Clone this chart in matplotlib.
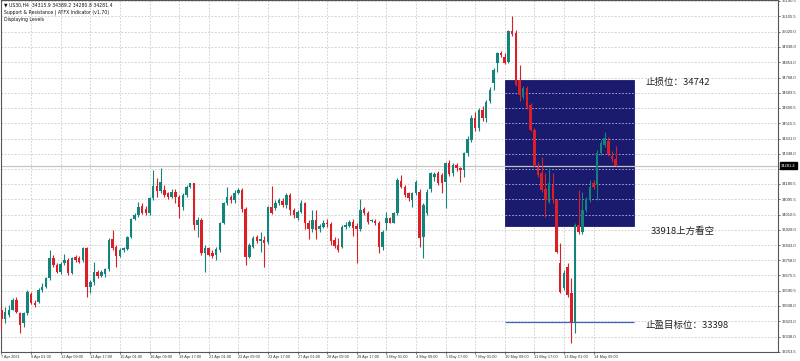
import matplotlib
matplotlib.use("Agg")
import matplotlib.pyplot as plt
import matplotlib.transforms as mtransforms
from matplotlib.patches import Rectangle

plt.rcParams['font.family'] = ['Liberation Sans', 'DejaVu Sans']

# ---------------- data (US30, H4) ----------------
opens = [33485, 33437, 33459, 33486, 33540, 33466, 33411, 33466, 33573, 33525,
         33530, 33595, 33613, 33660, 33770, 33733, 33696, 33743, 33761, 33687,
         33775, 33770, 33761, 33825, 33613, 33641, 33696, 33672, 33683, 33709,
         33875, 33834, 33783, 33816, 33820, 33886, 33985, 34009, 34059, 34040,
         34018, 34101, 34169, 34143, 34147, 34129, 34110, 34138, 34110, 34055,
         34119, 34165, 34184, 33954, 33981, 33797, 33825, 33799, 33788, 33816,
         33963, 34074, 34110, 34092, 34132, 34147, 34040, 33779, 33834, 33886,
         33868, 33871, 33862, 34055, 34046, 34074, 34088, 34064, 34119, 34037,
         33991, 34027, 34077, 33967, 33930, 33981, 33930, 33944, 33963, 33959,
         33871, 33844, 33834, 33941, 33948, 33972, 33948, 33930, 34040, 34018,
         33977, 33977, 33967, 33834, 33967, 33991, 33967, 34018, 34198, 34162,
         34129, 34092, 34129, 34138, 33886, 34018, 34151, 34221, 34239, 34230,
         34193, 34294, 34239, 34285, 34267, 34257, 34350, 34423, 34545, 34490,
         34589, 34545, 34640, 34740, 34848, 34903, 34881, 34854, 35025, 35014,
         34754, 34661, 34710, 34616, 34478, 34274, 34241, 34153, 34081, 34175,
         34092, 33744, 33606, 33722, 33578, 33418, 33954, 33915, 34037, 34092,
         34186, 34175, 34351, 34395, 34418, 34335, 34315.9]
highs = [33503, 33503, 33512, 33549, 33558, 33475, 33475, 33595, 33586, 33540,
         33604, 33632, 33669, 33816, 33788, 33743, 33751, 33794, 33770, 33779,
         33788, 33783, 33834, 33834, 33650, 33751, 33705, 33705, 33715, 33880,
         33926, 33844, 33825, 33834, 33893, 33991, 34018, 34082, 34074, 34057,
         34110, 34257, 34212, 34267, 34175, 34138, 34151, 34151, 34119, 34129,
         34175, 34187, 34188, 33999, 33991, 33844, 33834, 33816, 33834, 33972,
         34082, 34162, 34119, 34147, 34156, 34156, 34051, 33853, 33893, 33897,
         33917, 33891, 34059, 34169, 34092, 34101, 34101, 34132, 34129, 34046,
         34037, 34092, 34082, 33981, 34037, 34037, 33959, 33981, 33985, 33972,
         33885, 33880, 33954, 33972, 33981, 33985, 33963, 34096, 34055, 34033,
         33987, 33985, 33977, 33926, 34027, 33999, 34027, 34212, 34230, 34175,
         34138, 34138, 34202, 34151, 34074, 34151, 34248, 34248, 34253, 34243,
         34303, 34313, 34294, 34296, 34276, 34358, 34445, 34560, 34575, 34600,
         34610, 34645, 34716, 34820, 34910, 34915, 34903, 35030, 35109, 35030,
         34837, 34720, 34720, 34627, 34490, 34303, 34331, 34241, 34267, 34241,
         34097, 33855, 33705, 33744, 33660, 33963, 34147, 34138, 34110, 34202,
         34202, 34368, 34423, 34465, 34440, 34360, 34389.2]
lows = [33374, 33411, 33448, 33485, 33466, 33356, 33392, 33457, 33518, 33503,
        33521, 33586, 33604, 33650, 33724, 33687, 33683, 33733, 33678, 33683,
        33751, 33743, 33751, 33558, 33578, 33623, 33660, 33665, 33665, 33702,
        33816, 33724, 33775, 33806, 33813, 33880, 33980, 33999, 34015, 34009,
        34009, 34092, 34110, 34132, 34110, 34096, 34101, 34074, 33991, 34037,
        34110, 34156, 33926, 33889, 33788, 33696, 33783, 33770, 33761, 33806,
        33958, 34064, 34075, 34075, 34125, 34027, 33733, 33770, 33825, 33856,
        33806, 33724, 33850, 34015, 34037, 34064, 34055, 34046, 34009, 33991,
        33982, 34018, 33930, 33875, 33917, 33875, 33917, 33935, 33941, 33844,
        33825, 33806, 33825, 33930, 33941, 33893, 33743, 33922, 34009, 33959,
        33970, 33954, 33797, 33816, 33926, 33963, 33963, 34009, 34156, 34110,
        34088, 34055, 34119, 33834, 33770, 34009, 34138, 34198, 34175, 34132,
        34046, 34225, 34225, 34254, 34193, 34221, 34335, 34410, 34470, 34470,
        34530, 34520, 34625, 34699, 34800, 34880, 34843, 34850, 34995, 34720,
        34640, 34650, 34595, 34470, 34276, 34219, 34137, 33999, 34075, 34075,
        33799, 33578, 33595, 33558, 33300, 33356, 33904, 33904, 34025, 34081,
        34153, 34092, 34340, 34385, 34335, 34300, 34280.8]
closes = [33437, 33473, 33486, 33540, 33475, 33402, 33466, 33586, 33525, 33512,
          33595, 33613, 33660, 33770, 33733, 33696, 33738, 33761, 33687, 33770,
          33761, 33751, 33825, 33613, 33641, 33696, 33672, 33696, 33709, 33871,
          33825, 33783, 33816, 33825, 33886, 33985, 34009, 34055, 34022, 34018,
          34101, 34169, 34143, 34193, 34119, 34110, 34138, 34110, 34055, 34119,
          34165, 34184, 33954, 33981, 33797, 33825, 33788, 33783, 33820, 33963,
          34074, 34110, 34092, 34132, 34147, 34040, 33779, 33844, 33880, 33867,
          33875, 33856, 34052, 34022, 34077, 34092, 34064, 34119, 34037, 34009,
          34027, 34077, 33963, 33930, 33981, 33926, 33948, 33963, 33959, 33867,
          33838, 33816, 33944, 33952, 33972, 33935, 33930, 34037, 34018, 33972,
          33981, 33963, 33834, 33917, 33991, 33967, 34018, 34202, 34165, 34119,
          34101, 34129, 34193, 33880, 34064, 34138, 34239, 34235, 34188, 34184,
          34294, 34235, 34285, 34267, 34257, 34350, 34430, 34545, 34490, 34589,
          34545, 34633, 34699, 34810, 34903, 34892, 34848, 35025, 35008, 34727,
          34672, 34710, 34605, 34478, 34285, 34230, 34147, 34092, 34186, 34092,
          33805, 33584, 33689, 33567, 33418, 33954, 33915, 34037, 34092, 34164,
          34164, 34351, 34407, 34434, 34346, 34316, 34281.4]

x_labels = ["7 Apr 2021", "9 Apr 01:00", "12 Apr 09:00", "13 Apr 17:00", "15 Apr 01:00",
            "16 Apr 09:00", "19 Apr 17:00", "21 Apr 01:00", "22 Apr 09:00", "23 Apr 17:00",
            "27 Apr 01:00", "28 Apr 09:00", "29 Apr 17:00", "3 May 01:00", "4 May 09:00",
            "5 May 17:00", "7 May 01:00", "10 May 09:00", "11 May 17:00", "13 May 01:00",
            "14 May 09:00"]
bars_per_label = 8

y_tick_values = [35190.5, 35105.5, 35020.0, 34938.0, 34853.0, 34768.0, 34683.5, 34600.5,
                 34515.5, 34431.0, 34348.0, 34263.0, 34180.5, 34095.5, 34010.5, 33928.0,
                 33843.0, 33758.0, 33675.5, 33590.5, 33508.0, 33423.0, 33338.0, 33253.5]

last_price = 34281.4
stop_loss = 34742
pivot_level = 33918
take_profit = 33398
zone_top = 34755
zone_bottom = 33948
target_line = 33416
zone_start_bar = 136
zone_end_bar = 171

header_lines = ["\u25bc US30,H4  34315.9 34389.2 34280.8 34281.4",
                "Support & Resistance | ATFX Indicator (v1.70)",
                "Displaying Levels"]

# ---------------- figure ----------------
BULL = "#13847b"
BEAR = "#dc1f26"
GRID = "#c9c9c9"

fig = plt.figure(figsize=(8, 3.61), dpi=100)
ax = fig.add_axes([1 / 800, 9 / 361, 777 / 800, 352 / 361])
ax.set_xlim(-0.135, 209.86)
ax.set_ylim(33252.6, 35196)

n = len(closes)
xs = list(range(n))

# zone box
ax.add_patch(Rectangle((zone_start_bar, zone_bottom), zone_end_bar - zone_start_bar,
                       zone_top - zone_bottom, facecolor="#1a1a6e", edgecolor="#1a1a6e",
                       lw=0.6, zorder=1))
inner = [v for v in y_tick_values if zone_bottom < v < zone_top]
ax.hlines(inner, zone_start_bar, zone_end_bar, colors="#b9b9e6", lw=0.6,
          linestyles=(0, (2, 2)), zorder=1.2)

# target line
ax.hlines(target_line, zone_start_bar, zone_end_bar, colors="#3b63c4", lw=0.9, zorder=1.3)

# current price line
ax.axhline(last_price, color="#c4c4c4", lw=0.9, zorder=1.4)

# candles
colors = [BULL if c >= o else BEAR for o, c in zip(opens, closes)]
ax.vlines(xs, lows, highs, colors=colors, lw=0.8, zorder=3)
bottoms = [min(o, c) for o, c in zip(opens, closes)]
heights = [max(abs(c - o), 4) for o, c in zip(opens, closes)]
ax.bar(xs, heights, bottom=bottoms, width=0.68, color=colors, lw=0, zorder=4)

# ticks & grid
xt = [i * bars_per_label for i in range(len(x_labels))]
ax.set_xticks(xt)
ax.set_xticklabels(x_labels)
for lbl in ax.get_xticklabels():
    lbl.set_ha("left")
ax.set_yticks(y_tick_values)
ax.set_yticklabels([f"{v:.1f}" for v in y_tick_values])
ax.yaxis.tick_right()
ax.tick_params(axis="x", labelsize=2.8, length=1.5, width=0.5, pad=1, colors="#333333")
ax.tick_params(axis="y", labelsize=3.0, length=1.5, width=0.5, pad=1.2, colors="#333333")
ax.grid(True, color=GRID, lw=0.6, linestyle=(0, (2, 2)))
ax.set_axisbelow(True)
for s in ax.spines.values():
    s.set_color("#555555")
    s.set_linewidth(0.8)

# annotations
cjk = ["Noto Sans CJK SC", "DejaVu Sans"]
ax.text(zone_end_bar + 3, stop_loss, f"止损位：{stop_loss}", fontsize=6.8,
        va="center", ha="left", family=cjk, color="#222222", zorder=5)
ax.text(zone_end_bar + 4.5, pivot_level, f"{pivot_level}上方看空", fontsize=6.8,
        va="center", ha="left", family=cjk, color="#222222", zorder=5)
ax.text(zone_end_bar + 3, take_profit, f"止盈目标位：{take_profit}", fontsize=6.8,
        va="center", ha="left", family=cjk, color="#222222", zorder=5)

# last price badge
trans = mtransforms.blended_transform_factory(ax.transAxes, ax.transData)
ax.text(1.004, last_price, f"{last_price:.1f}", transform=trans, fontsize=3.0,
        color="white", va="center", ha="left", clip_on=False, zorder=10,
        bbox=dict(boxstyle="square,pad=0.3", facecolor="black", edgecolor="black"))

# header
for i, line in enumerate(header_lines):
    fig.text(4 / 800, 1 - (5 + 7.5 * i) / 361, line, fontsize=3.3, va="center",
             ha="left", color="#111111", family=["DejaVu Sans"])

fig.savefig("out.png", dpi=100)
